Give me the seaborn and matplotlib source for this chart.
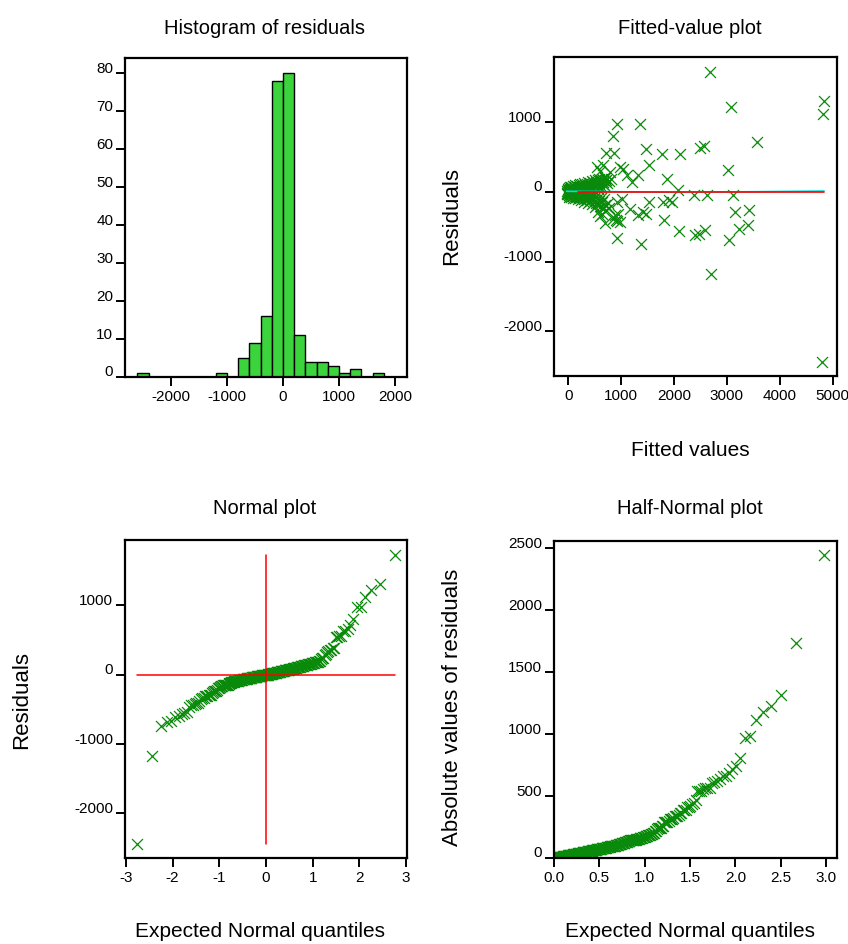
import statistics

import matplotlib

matplotlib.use("Agg")
import matplotlib.pyplot as plt
import matplotlib.transforms as mtransforms
import numpy as np
import seaborn as sns

# residuals (sorted) and the fitted value of each case
residuals = [
    -2442, -1178,
    -745, -688, -663, -615,
    -601, -567, -553, -538, -471, -440, -433, -420, -409, -409,
    -385, -350, -337, -337, -312, -312, -312, -288, -288, -288, -260, -255, -240, -240, -230, -220,
    -198, -188, -180, -172, -165, -160, -155, -150, -146, -144, -144, -144, -142, -128, -124, -120,
    -114, -110, -107, -104, -100, -97, -96, -93, -90, -88, -86, -84, -82, -80, -77, -75, -73, -71,
    -69, -67, -65, -63, -61, -59, -57, -55, -53, -51, -49, -48, -48, -46, -44, -42, -40, -38, -36,
    -34, -33, -31, -29, -28, -26, -24, -23, -21, -20, -18, -17, -15, -14, -12, -11, -10, -8, -7, -6,
    -5, -4, -3, -2, -1,
    1, 3, 5, 7, 9, 11, 13, 15, 17, 19, 21, 23, 24, 25, 27, 29, 31, 33, 35, 37, 39, 41, 43, 45, 47,
    49, 51, 53, 55, 57, 59, 61, 63, 65, 67, 69, 71, 73, 75, 77, 79, 81, 84, 86, 88, 90, 93, 95, 98,
    100, 103, 106, 108, 111, 114, 117, 120, 123, 126, 129, 132, 135, 138, 141, 144, 146, 149, 152,
    156, 160, 163, 167, 171, 175, 179, 183, 187, 190, 194, 198,
    220, 240, 240, 288, 300, 322, 337, 360, 361, 385, 385,
    543, 543, 562, 562,
    625, 635, 663, 721,
    803, 971, 981,
    1115,
    1226, 1313,
    1731,
]
fitted = [
    4808, 2697,
    1367, 3043, 926, 2407,
    2476, 2098, 2583, 3233, 3403, 690, 977, 920, 1815, 901,
    838, 600, 1323, 882, 1468, 945, 630, 1405, 3151, 567, 720, 3415, 1166, 662, 780, 500,
    610, 540, 700, 450, 380, 520, 760, 300, 640, 1795, 1970, 1525, 915, 420, 580, 1910,
    250, 350, 680, 180, 480, 300, 1010, 130, 560, 220, 400, 90, 330, 610, 160, 270, 450, 60,
    200, 370, 20, 520, 140, 250, 90, 410, 30, 190, 300, 2630, 3120, 110, 470, 10, 230, 2375, 80,
    340, -20, 150, 60, 280, 120, 0, 200, 40, 380, 100, -30, 170, 70, 250, 20, 130, 50, 300, -10,
    90, 160, 30, 210, 0,
    420, 60, 250, 10, 140, 330, -20, 90, 200, 40, 480, 120, 2080, 0, 280, 70, 170, 390, 30, 220,
    110, 560, 50, 300, 150, -10, 360, 80, 240, 450, 20, 180, 620, 100, 310, 40, 500, 210, 130, 380,
    60, 270, 690, 160, 430, 90, 330, 540, 200, 400, 120, 600, 260, 470, 350, 660, 230, 520, 420,
    740, 300, 580, 470, 650, 1210, 380, 520, 700, 440, 600, 780, 500, 660, 560, 720, 640, 810,
    1870, 580, 700,
    700, 1103, 1323, 788, 600, 3024, 1027, 536, 977, 1525, 649,
    1777, 2123, 712, 863,
    1468, 2489, 2565, 3573,
    838, 1355, 914,
    4820,
    3075, 4839,
    2678,
]
# smoother drawn under the zero line on the fitted-value plot
smooth_x = [-30, 700, 2000, 3200, 4839]
smooth_y = [10, 6, -4, 2, 14]

hist_bins = np.arange(-2600, 2000, 200)
hist_xticks = [-2000, -1000, 0, 1000, 2000]
hist_yticks = [0, 10, 20, 30, 40, 50, 60, 70, 80]
fit_xticks = [0, 1000, 2000, 3000, 4000, 5000]
resid_yticks = [-2000, -1000, 0, 1000]
norm_xticks = [-3, -2, -1, 0, 1, 2, 3]
half_xticks = [0.0, 0.5, 1.0, 1.5, 2.0, 2.5, 3.0]
half_yticks = [0, 500, 1000, 1500, 2000, 2500]

sns.set_style("white")
plt.rcParams["font.family"] = ["Liberation Sans", "DejaVu Sans"]
plt.rcParams["axes.unicode_minus"] = False
plt.rcParams["text.color"] = "black"

W, H = 848, 945
fig = plt.figure(figsize=(W / 100, H / 100), dpi=100)


def box(left, top, right, bottom):
    return fig.add_axes([left / W, 1 - bottom / H, (right - left) / W, (bottom - top) / H])


def label(x, y, s, size=14.5, rot=0):
    fig.text(x / W, 1 - y / H, s, ha="center", va="center", fontsize=size, rotation=rot, color="black")


def style(ax):
    for sp in ax.spines.values():
        sp.set_visible(True)
        sp.set_color("black")
        sp.set_linewidth(1.6)
    ax.tick_params(bottom=True, left=True, direction="out", length=6.5, width=1.4,
                   labelsize=11, colors="black", pad=2)
    # the y labels sit a little above their ticks in the original
    off = mtransforms.ScaledTranslation(0, 7 / 100, fig.dpi_scale_trans)
    for t in ax.get_yticklabels():
        t.set_transform(t.get_transform() + off)
    ax.set_xlabel("")
    ax.set_ylabel("")


mark = dict(marker="x", color="#0a8a0a", s=62, linewidth=0.9, legend=False)
n = len(residuals)
res = np.array(residuals, dtype=float)
fit = np.array(fitted, dtype=float)

# histogram of residuals
ax1 = box(125, 59, 407, 378)
sns.histplot(x=res, bins=hist_bins, color="#3cd43c", edgecolor="black", linewidth=1.0, alpha=1, ax=ax1)
ax1.set_xlim(-2820, 2215)
ax1.set_ylim(0, 84)
ax1.set_xticks(hist_xticks)
ax1.set_yticks(hist_yticks)
style(ax1)

# fitted-value plot
ax2 = box(554, 58, 837, 377)
ax2.plot(smooth_x, smooth_y, color="#00e0e0", lw=1.2)
ax2.plot([185, fit.max()], [0, 0], color="red", lw=1.2)
sns.scatterplot(x=fit, y=res, ax=ax2, **mark)
ax2.set_xlim(-270, 5085)
ax2.set_ylim(-2647, 1942)
ax2.set_xticks(fit_xticks)
ax2.set_yticks(resid_yticks)
style(ax2)

# normal plot
srt = np.sort(res)
q = np.array([statistics.NormalDist().inv_cdf((i - 0.375) / (n + 0.25)) for i in range(1, n + 1)])
ax3 = box(125, 541, 407, 859)
ax3.plot([q.min(), q.max()], [0, 0], color="red", lw=1.1)
ax3.plot([0, 0], [srt.min(), srt.max()], color="red", lw=1.1)
sns.scatterplot(x=q, y=srt, ax=ax3, **mark)
ax3.set_xlim(-3.02, 3.02)
ax3.set_ylim(-2645, 1944)
ax3.set_xticks(norm_xticks)
ax3.set_yticks(resid_yticks)
style(ax3)

# half-normal plot
absr = np.sort(np.abs(res))
hq = np.array([statistics.NormalDist().inv_cdf((i + n - 0.125) / (2 * n + 0.5)) for i in range(1, n + 1)])
ax4 = box(554, 541.5, 837, 859)
sns.scatterplot(x=hq, y=absr, ax=ax4, **mark)
ax4.set_xlim(0, 3.12)
ax4.set_ylim(0, 2561)
ax4.set_xticks(half_xticks)
ax4.set_xticklabels([f"{v:.1f}" for v in half_xticks])
ax4.set_yticks(half_yticks)
style(ax4)

label(265, 28, "Histogram of residuals")
label(690, 28, "Fitted-value plot")
label(690, 451, "Fitted values", 15)
label(452, 216, "Residuals", 16, 90)
label(265, 509, "Normal plot")
label(690, 509, "Half-Normal plot")
label(22, 700, "Residuals", 16, 90)
label(452, 707, "Absolute values of residuals", 16, 90)
label(260, 932, "Expected Normal quantiles", 15)
label(690, 932, "Expected Normal quantiles", 15)

fig.savefig("out.png", dpi=100)
